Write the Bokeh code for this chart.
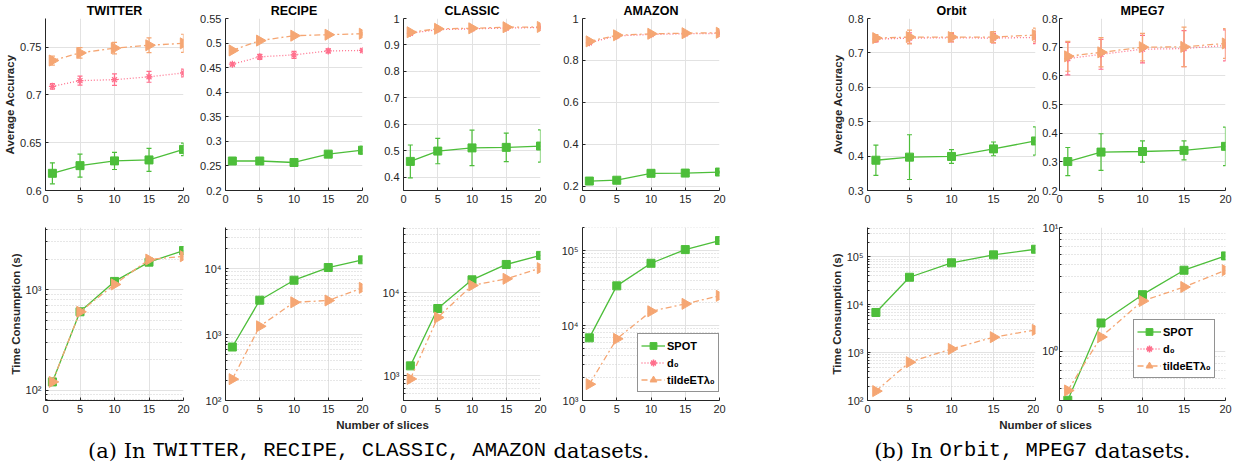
import numpy as np
from bokeh.plotting import figure
from bokeh.models import (Range1d, Whisker, TeeHead, ColumnDataSource, Legend, LegendItem,
                          FixedTicker, CustomJSTickFormatter)
from bokeh.layouts import column, row
from bokeh.embed import file_html
from bokeh.resources import INLINE
from bokeh.core.properties import value

# ---------------- data ----------------
slices = [1, 5, 10, 15, 20]
datasets = ["TWITTER", "RECIPE", "CLASSIC", "AMAZON", "Orbit", "MPEG7"]

# average accuracy
acc_spot = {
    "TWITTER": [0.618, 0.626, 0.631, 0.632, 0.643],
    "RECIPE": [0.260, 0.260, 0.257, 0.274, 0.282],
    "CLASSIC": [0.460, 0.499, 0.511, 0.513, 0.518],
    "AMAZON": [0.225, 0.229, 0.262, 0.263, 0.268],
    "Orbit": [0.388, 0.397, 0.399, 0.421, 0.444],
    "MPEG7": [0.301, 0.334, 0.336, 0.340, 0.354],
}
acc_spot_err = {
    "TWITTER": [0.011, 0.012, 0.009, 0.012, 0.0065],
    "RECIPE": [0.004, 0.005, 0.004, 0.006, 0.008],
    "CLASSIC": [0.062, 0.048, 0.067, 0.054, 0.061],
    "AMAZON": [0.005, 0.005, 0.006, 0.005, 0.005],
    "Orbit": [0.044, 0.065, 0.020, 0.020, 0.041],
    "MPEG7": [0.049, 0.064, 0.037, 0.033, 0.067],
}
acc_d0 = {
    "TWITTER": [0.709, 0.715, 0.716, 0.719, 0.723],
    "RECIPE": [0.457, 0.472, 0.476, 0.484, 0.485],
    "CLASSIC": [0.944, 0.958, 0.961, 0.964, 0.966],
    "AMAZON": [0.884, 0.917, 0.924, 0.927, 0.929],
    "Orbit": [0.740, 0.743, 0.744, 0.743, 0.745],
    "MPEG7": [0.660, 0.675, 0.693, 0.695, 0.706],
}
acc_d0_err = {
    "TWITTER": [0.003, 0.0047, 0.006, 0.0057, 0.004],
    "RECIPE": [0.003, 0.005, 0.007, 0.004, 0.003],
    "CLASSIC": [0.004, 0.004, 0.004, 0.004, 0.004],
    "AMAZON": [0.005, 0.005, 0.005, 0.005, 0.005],
    "Orbit": [0.008, 0.015, 0.012, 0.014, 0.018],
    "MPEG7": [0.057, 0.052, 0.048, 0.063, 0.054],
}
acc_et = {
    "TWITTER": [0.736, 0.744, 0.749, 0.752, 0.754],
    "RECIPE": [0.485, 0.505, 0.515, 0.517, 0.519],
    "CLASSIC": [0.948, 0.961, 0.963, 0.967, 0.968],
    "AMAZON": [0.891, 0.920, 0.927, 0.930, 0.932],
    "Orbit": [0.743, 0.746, 0.746, 0.746, 0.752],
    "MPEG7": [0.668, 0.682, 0.700, 0.701, 0.713],
}
acc_et_err = {
    "TWITTER": [0.0047, 0.0055, 0.006, 0.0078, 0.0095],
    "RECIPE": [0.003, 0.004, 0.003, 0.003, 0.003],
    "CLASSIC": [0.003, 0.003, 0.003, 0.003, 0.003],
    "AMAZON": [0.004, 0.004, 0.004, 0.004, 0.004],
    "Orbit": [0.010, 0.020, 0.013, 0.016, 0.020],
    "MPEG7": [0.052, 0.051, 0.048, 0.069, 0.052],
}
acc_ylim = {
    "TWITTER": (0.6, 0.78), "RECIPE": (0.2, 0.55), "CLASSIC": (0.35, 1.0),
    "AMAZON": (0.18, 1.0), "Orbit": (0.3, 0.8), "MPEG7": (0.2, 0.8),
}
acc_yticks = {
    "TWITTER": [0.6, 0.65, 0.7, 0.75],
    "RECIPE": [0.2, 0.25, 0.3, 0.35, 0.4, 0.45, 0.5, 0.55],
    "CLASSIC": [0.4, 0.5, 0.6, 0.7, 0.8, 0.9, 1.0],
    "AMAZON": [0.2, 0.4, 0.6, 0.8, 1.0],
    "Orbit": [0.3, 0.4, 0.5, 0.6, 0.7, 0.8],
    "MPEG7": [0.2, 0.3, 0.4, 0.5, 0.6, 0.7, 0.8],
}

# time consumption (s)
time_spot = {
    "TWITTER": [121, 604, 1211, 1884, 2460],
    "RECIPE": [649, 3335, 6710, 10460, 13700],
    "CLASSIC": [1310, 6460, 14350, 22000, 28300],
    "AMAZON": [6850, 33800, 67700, 103000, 136000],
    "Orbit": [6890, 37500, 75100, 110000, 144000],
    "MPEG7": [0.40, 1.687, 2.86, 4.51, 5.89],
}
time_et = {
    "TWITTER": [121, 604, 1130, 2000, 2157],
    "RECIPE": [211, 1340, 3100, 3300, 5140],
    "CLASSIC": [912, 5030, 12270, 14760, 19860],
    "AMAZON": [1650, 6640, 15500, 19450, 24900],
    "Orbit": [157, 632, 1190, 2100, 2980],
    "MPEG7": [0.48, 1.30, 2.54, 3.30, 4.51],
}
time_ylim = {
    "TWITTER": (79, 4170), "RECIPE": (100, 42400), "CLASSIC": (500, 61500),
    "AMAZON": (1000, 203000), "Orbit": (100, 410000), "MPEG7": (0.398, 10),
}
time_decades = {
    "TWITTER": (1, 3), "RECIPE": (2, 4), "CLASSIC": (2, 4),
    "AMAZON": (3, 5), "Orbit": (2, 5), "MPEG7": (-1, 1),
}

series_labels = ["SPOT", "d\u2080", "tildeET\u03bb\u2080"]
x_label = "Number of slices"
acc_label = "Average Accuracy"
time_label = "Time Consumption (s)"
caption_a = ["(a) In", "TWITTER, RECIPE, CLASSIC, AMAZON", "datasets."]
caption_b = ["(b) In", "Orbit, MPEG7", "datasets."]

# ---------------- style / layout ----------------
FONT = "Liberation Sans"
TXT = "#262626"
GREEN = "#4DBE3A"
PINK = "#FF6F8C"
ORANGE = "#F5A673"
GRID = "#E2E2E2"
DOT = "1 2"
DASHDOT = "6 3 2 3"

# (figure width, min_border_left, min_border_right, y label standoff)
geom = {
    "TWITTER": (192, 45, 9, 4), "RECIPE": (179, 33, 9, 4), "CLASSIC": (178, 32, 9, 4),
    "AMAZON": (179, 33, 9, 4), "Orbit": (311, 139, 4, 4), "MPEG7": (198, 18, 12, 2),
}

sup = CustomJSTickFormatter(code="""
const s = {'0':'\u2070','1':'\u00b9','2':'\u00b2','3':'\u00b3','4':'\u2074','5':'\u2075',
           '6':'\u2076','7':'\u2077','8':'\u2078','9':'\u2079','-':'\u207b'};
const e = Math.round(Math.log10(tick));
return '10' + String(e).split('').map(c => s[c]).join('');
""")


def style_axes(p, ylab_standoff):
    for ax in (p.xaxis[0], p.yaxis[0]):
        ax.axis_line_color = TXT
        ax.axis_line_width = 1
        ax.major_tick_line_color = TXT
        ax.minor_tick_line_color = TXT
        ax.major_tick_in = 3
        ax.major_tick_out = 0
        ax.minor_tick_in = 2
        ax.minor_tick_out = 0
        ax.major_label_text_font = FONT
        ax.major_label_text_font_size = "11px"
        ax.major_label_text_color = TXT
        ax.axis_label_text_font = FONT
        ax.axis_label_text_font_size = "11.5px"
        ax.axis_label_text_font_style = "bold"
        ax.axis_label_text_color = TXT
        ax.axis_label_standoff = 1
    p.xaxis[0].major_label_standoff = 4
    p.yaxis[0].major_label_standoff = ylab_standoff
    p.xaxis[0].ticker = FixedTicker(ticks=[0, 5, 10, 15, 20])
    p.xaxis[0].minor_tick_line_color = None
    p.xgrid.grid_line_color = GRID
    p.ygrid.grid_line_color = GRID
    p.outline_line_color = None
    p.background_fill_color = "white"
    p.border_fill_color = "white"


def whiskers(p, vals, errs, color):
    src = ColumnDataSource(dict(x=slices, lo=[v - e for v, e in zip(vals, errs)],
                                hi=[v + e for v, e in zip(vals, errs)]))
    w = Whisker(source=src, base="x", lower="lo", upper="hi", line_color=color, line_width=1.2,
                upper_head=TeeHead(size=5, line_color=color, line_width=1.2),
                lower_head=TeeHead(size=5, line_color=color, line_width=1.2))
    p.add_layout(w)


def draw_series(p, ys, color, dash, marker, size, angle=0.0):
    l = p.line(slices, ys, line_color=color, line_width=1.3, line_dash=dash)
    s = p.scatter(slices, ys, marker=marker, size=size, fill_color=color, line_color=color,
                  line_width=1.3 if marker == "asterisk" else 1, angle=angle)
    return l, s


def add_legend(p, items, loc):
    lg = Legend(items=[LegendItem(label=lab, renderers=list(r)) for lab, r in zip(series_labels, items)],
                location=loc)
    lg.label_text_font = FONT
    lg.label_text_font_size = "11px"
    lg.label_text_font_style = "bold"
    lg.label_text_color = "black"
    lg.glyph_width = 24
    lg.glyph_height = 17
    lg.label_height = 17
    lg.label_standoff = 2
    lg.spacing = 0
    lg.padding = 3
    lg.margin = 0
    lg.border_line_color = TXT
    lg.border_line_width = 1
    lg.background_fill_alpha = 1
    p.add_layout(lg)


top_figs, bot_figs = [], []
for name in datasets:
    W, bl, br, ystd = geom[name]
    # ---- accuracy ----
    p = figure(width=W, height=210, x_range=Range1d(0, 20), y_range=Range1d(*acc_ylim[name]),
               min_border_left=bl, min_border_right=br, min_border_top=17, min_border_bottom=20,
               output_backend="svg", toolbar_location=None)
    style_axes(p, ystd)
    p.yaxis[0].ticker = FixedTicker(ticks=acc_yticks[name])
    p.yaxis[0].minor_tick_line_color = None
    p.title.text = name
    p.title.align = "center"
    p.title.text_font = FONT
    p.title.text_font_size = "12.5px"
    p.title.text_font_style = "bold"
    p.title.text_color = "black"
    p.title.standoff = 2
    if name in ("TWITTER", "Orbit"):
        p.yaxis[0].axis_label = acc_label
    whiskers(p, acc_spot[name], acc_spot_err[name], GREEN)
    draw_series(p, acc_spot[name], GREEN, "solid", "square", 8)
    whiskers(p, acc_d0[name], acc_d0_err[name], PINK)
    draw_series(p, acc_d0[name], PINK, DOT, "asterisk", 7)
    whiskers(p, acc_et[name], acc_et_err[name], ORANGE)
    draw_series(p, acc_et[name], ORANGE, DASHDOT, "triangle", 11, angle=-np.pi / 2)
    top_figs.append(p)

    # ---- time ----
    q = figure(width=W, height=210, x_range=Range1d(0, 20), y_range=Range1d(*time_ylim[name]),
               y_axis_type="log",
               min_border_left=bl, min_border_right=br, min_border_top=17, min_border_bottom=20,
               output_backend="svg", toolbar_location=None)
    style_axes(q, 1 if name == "MPEG7" else ystd)
    d0, d1 = time_decades[name]
    q.yaxis[0].ticker = FixedTicker(ticks=[10.0 ** k for k in range(d0, d1 + 1)],
                                    minor_ticks=[m * 10.0 ** k for k in range(d0 - 1, d1 + 1) for m in range(2, 10)])
    q.yaxis[0].formatter = sup
    q.ygrid.minor_grid_line_color = "#CFCFCF"
    q.ygrid.minor_grid_line_dash = DOT
    if name in ("TWITTER", "Orbit"):
        q.yaxis[0].axis_label = time_label
    r_spot = draw_series(q, time_spot[name], GREEN, "solid", "square", 8)
    # d0 has no visible time curve in the figure; it only appears in the legend
    empty = ColumnDataSource(dict(x=[np.nan], y=[np.nan]))
    r_d0 = (q.line("x", "y", source=empty, line_color=PINK, line_width=1.3, line_dash=DOT),
            q.scatter("x", "y", source=empty, marker="asterisk", size=7, line_color=PINK, line_width=1.5))
    r_et = draw_series(q, time_et[name], ORANGE, DASHDOT, "triangle", 11, angle=-np.pi / 2)
    if name == "AMAZON":
        add_legend(q, [r_spot, r_d0, r_et], (55, 8))
    if name == "MPEG7":
        add_legend(q, [r_spot, r_d0, r_et], (74, 22))
    bot_figs.append(q)

# ---- captions / shared x labels ----
cap = figure(width=1236, height=47, x_range=Range1d(0, 1236), y_range=Range1d(47, 0),
             min_border=0, x_axis_location=None, y_axis_location=None,
             output_backend="svg", toolbar_location=None)
cap.grid.visible = False
cap.outline_line_color = None
cap.text(x=[382, 1045], y=[4.5, 4.5], text=[x_label, x_label], text_align="center",
         text_baseline="middle", text_font=value(FONT), text_font_style="bold",
         text_font_size="11.5px", text_color=TXT)
cap.text(x=[145, 932], y=[30, 30], text=[caption_a[0], caption_b[0]], text_align="right",
         text_baseline="middle", text_font=value("DejaVu Serif"), text_font_size="21px",
         text_color="black")
cap.text(x=[152, 939], y=[30, 30], text=[caption_a[1], caption_b[1]], text_align="left",
         text_baseline="middle", text_font=value("Liberation Mono"), text_font_size="20.5px",
         text_color="black")
cap.text(x=[553, 1094], y=[30, 30], text=[caption_a[2], caption_b[2]], text_align="left",
         text_baseline="middle", text_font=value("DejaVu Serif"), text_font_size="21px",
         text_color="black")

layout = column(row(*top_figs, spacing=0), row(*bot_figs, spacing=0), cap, spacing=0)
open("out.html", "w").write(file_html(layout, INLINE))
